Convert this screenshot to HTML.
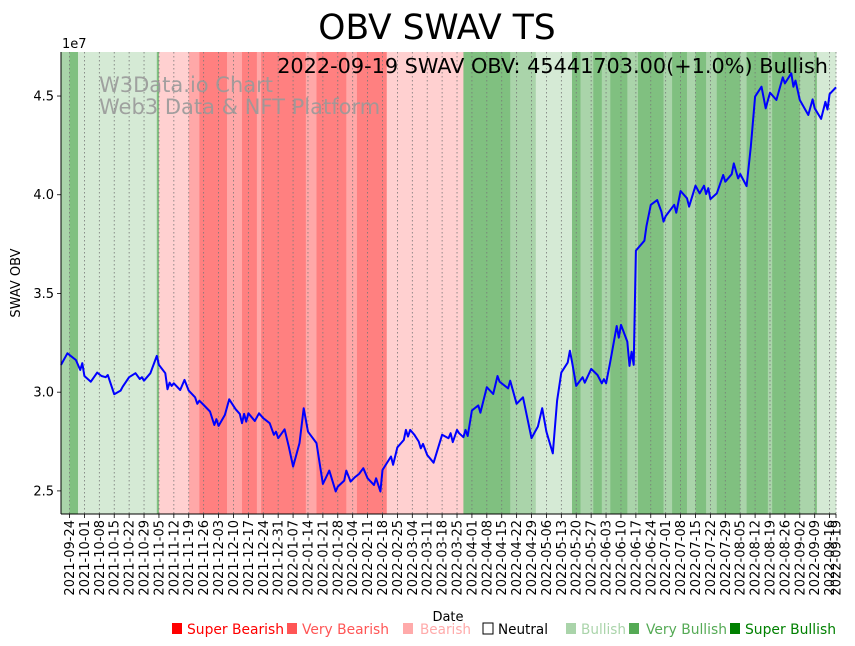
<!DOCTYPE html>
<html><head><meta charset="utf-8">
<style>
html,body{margin:0;padding:0;background:#fff;}
svg{display:block;font-family:"DejaVu Sans","Liberation Sans",sans-serif;}
</style></head>
<body>
<svg id="chart" width="855" height="646" viewBox="0 0 855 646">
  <text x="437" y="39" text-anchor="middle" font-size="34.5" fill="#000">OBV SWAV TS</text>
  <g id="bands"></g>
  <g id="grid"></g>
  <text x="99" y="92" font-size="21" fill="#999" fill-opacity="0.9">W3Data.io Chart</text>
  <text x="99" y="114" font-size="21" fill="#999" fill-opacity="0.9">Web3 Data &amp; NFT Platform</text>
  <g id="series"></g>
  <text x="828" y="73" text-anchor="end" font-size="20.8" fill="#000">2022-09-19 SWAV OBV: 45441703.00(+1.0%) Bullish</text>
  <g id="yaxis"></g>
  <g id="xaxis"></g>
  <text x="62" y="48" font-size="13">1e7</text>
  <text transform="translate(20,283) rotate(-90)" text-anchor="middle" font-size="13">SWAV OBV</text>
  <text x="448" y="621" text-anchor="middle" font-size="13">Date</text>
  <g id="legend"></g>
</svg>
<script>
// ---- data ----
const startDate = "2021-09-20";
const obvDays = [0,3,7,9,10,11,14,17,19,21,22,25,28,29,32,35,37,38,39,42,45,46,49,50,51,52,53,56,58,60,63,64,65,67,70,72,73,74,77,79,82,84,85,86,87,88,91,93,95,98,100,101,102,105,107,109,112,114,116,120,123,126,129,130,133,134,136,138,140,142,144,147,148,150,151,155,156,158,161,162,163,164,166,168,169,170,172,175,179,182,183,184,186,187,189,190,191,193,196,197,200,203,205,206,210,211,214,217,221,224,226,228,231,233,235,238,239,240,242,245,246,249,252,254,255,256,258,261,262,263,266,267,268,269,270,274,275,277,280,282,283,284,288,289,291,294,295,298,300,302,303,304,305,308,311,312,315,316,318,319,322,324,326,329,331,333,336,339,340,343,344,345,347,351,353,354,357,359,360,361,364];
const obvValues = [3.138,3.197,3.163,3.113,3.147,3.082,3.053,3.099,3.082,3.076,3.087,2.990,3.008,3.028,3.076,3.096,3.067,3.076,3.058,3.096,3.184,3.138,3.096,3.015,3.048,3.032,3.045,3.011,3.062,3.008,2.974,2.941,2.957,2.935,2.902,2.834,2.863,2.829,2.885,2.964,2.914,2.890,2.843,2.890,2.851,2.893,2.854,2.893,2.868,2.843,2.784,2.800,2.767,2.812,2.724,2.623,2.742,2.919,2.800,2.742,2.535,2.603,2.497,2.522,2.552,2.603,2.547,2.569,2.586,2.615,2.564,2.530,2.564,2.497,2.606,2.674,2.632,2.721,2.758,2.809,2.775,2.809,2.784,2.750,2.716,2.738,2.682,2.643,2.784,2.767,2.792,2.747,2.809,2.792,2.772,2.809,2.778,2.907,2.933,2.896,3.025,2.991,3.082,3.053,3.019,3.058,2.941,2.974,2.767,2.826,2.919,2.800,2.690,2.957,3.099,3.150,3.210,3.155,3.032,3.076,3.048,3.118,3.087,3.045,3.066,3.045,3.155,3.335,3.276,3.341,3.256,3.133,3.205,3.138,3.717,3.767,3.842,3.949,3.973,3.914,3.864,3.892,3.949,3.909,4.019,3.982,3.940,4.046,4.007,4.046,4.004,4.033,3.978,4.007,4.100,4.066,4.104,4.159,4.083,4.105,4.044,4.243,4.497,4.547,4.438,4.517,4.480,4.595,4.564,4.615,4.547,4.578,4.480,4.404,4.483,4.438,4.384,4.471,4.432,4.510,4.5442];
const bandStart = [0,4,8,45,46,60,65,78,85,92,94,115,120,134,139,153,189,211,223,240,244,250,254,258,266,271,283,287,294,298,303,308,319,322,332,334,347,354,355];
const bandLevel = [2,3,1,3,-1,-2,-3,-2,-3,-2,-3,-2,-3,-2,-3,-1,3,2,1,3,2,3,2,3,2,3,2,3,2,3,2,3,2,3,2,3,2,3,1];
const yTicks = [2.5,3.0,3.5,4.0,4.5];
const legendLabels = ["Super Bearish","Very Bearish","Bearish","Neutral","Bullish","Very Bullish","Super Bullish"];
const legendColors = ["#ff0000","#ff5555","#ffaaaa","none","#aad4aa","#55aa55","#008000"];
const legendText = ["#ff0000","#ff5555","#ffaaaa","#000000","#aad4aa","#55aa55","#008000"];

// ---- layout ----
const X0=61, X1=836, Y0=52, Y1=514, DAYS=364;
const VMIN=2.383, VMAX=4.723;
const sx = d => X0 + (d/DAYS)*(X1-X0);
const sy = v => Y1 - (v-VMIN)/(VMAX-VMIN)*(Y1-Y0);
const NS="http://www.w3.org/2000/svg";
function mk(tag, attrs, parent){const e=document.createElementNS(NS,tag);for(const k in attrs)e.setAttribute(k,attrs[k]);parent.appendChild(e);return e;}
const bandColors={"1":"#d5ead5","2":"#aad4aa","3":"#80c080","-1":"#ffd0d0","-2":"#ffa8a8","-3":"#ff8080"};

// bands
const gB=document.getElementById('bands');
for(let i=0;i<bandStart.length;i++){
  const s=bandStart[i], e=(i+1<bandStart.length)?bandStart[i+1]:DAYS;
  const r=mk('rect',{x:sx(s),y:Y0,width:sx(e)-sx(s)+0.3,height:Y1-Y0,fill:bandColors[bandLevel[i]]},gB);
  
  
}

// x ticks (weekly from 2021-09-24) + final date
const base=new Date(startDate+"T00:00:00Z");
const fmt=d=>{const t=new Date(base.getTime()+d*86400000);return t.toISOString().slice(0,10);};
const tickDays=[];for(let d=4;d<=DAYS;d+=7)tickDays.push(d);tickDays.push(DAYS);
const gG=document.getElementById('grid'), gX=document.getElementById('xaxis');
tickDays.forEach(d=>{
  const x=sx(d);
  const gl=mk('line',{x1:x,x2:x,y1:Y0,y2:Y1,stroke:"#777","stroke-width":0.8,"stroke-dasharray":"1.5,2.5"},gG);
  
  
  const tk=mk('line',{x1:x,x2:x,y1:Y1,y2:Y1+4,stroke:"#000","stroke-width":0.8},gX);
  
  
  const t=mk('text',{transform:`translate(${x+4.5},${Y1+6}) rotate(-90)`,"text-anchor":"end","font-size":13},gX);
  t.textContent=fmt(d);
  
  
});

// line
const gS=document.getElementById('series');
const pts=obvDays.map((d,i)=>sx(d).toFixed(1)+","+sy(obvValues[i]).toFixed(1)).join(" ");
const pl=mk('polyline',{points:pts,fill:"none",stroke:"#0000ff","stroke-width":2,"stroke-linejoin":"round"},gS);



// y axis
const gY=document.getElementById('yaxis');
yTicks.forEach(v=>{
  const y=sy(v);
  const tk=mk('line',{x1:X0-4,x2:X0,y1:y,y2:y,stroke:"#000","stroke-width":0.8},gY);
  
  
  const t=mk('text',{x:X0-7,y:y+4.5,"text-anchor":"end","font-size":13},gY);
  t.textContent=v.toFixed(1);
  
  
});
const sp1=mk('line',{x1:X0,x2:X0,y1:Y0,y2:Y1,stroke:"#000","stroke-width":1},gY);


const sp2=mk('line',{x1:X0,x2:X1,y1:Y1,y2:Y1,stroke:"#000","stroke-width":1},gX);



// legend
const gL=document.getElementById('legend');
const lx=[172,287,403,483,566,629,730];
const tx=[187,302,420,498,581,646,745];
const lw=[97,87,51,50,45,81,91];
legendLabels.forEach((lab,i)=>{
  const r=mk('rect',{x:lx[i],y:623,width:10,height:11,fill:legendColors[i],stroke:legendColors[i]==="none"?"#000":"none","stroke-width":1},gL);
  
  
  const t=mk('text',{x:tx[i],y:634,"font-size":14,fill:legendText[i],textLength:lw[i],lengthAdjust:"spacingAndGlyphs"},gL);
  t.textContent=lab;
  
  
});
</script>
</body></html>
